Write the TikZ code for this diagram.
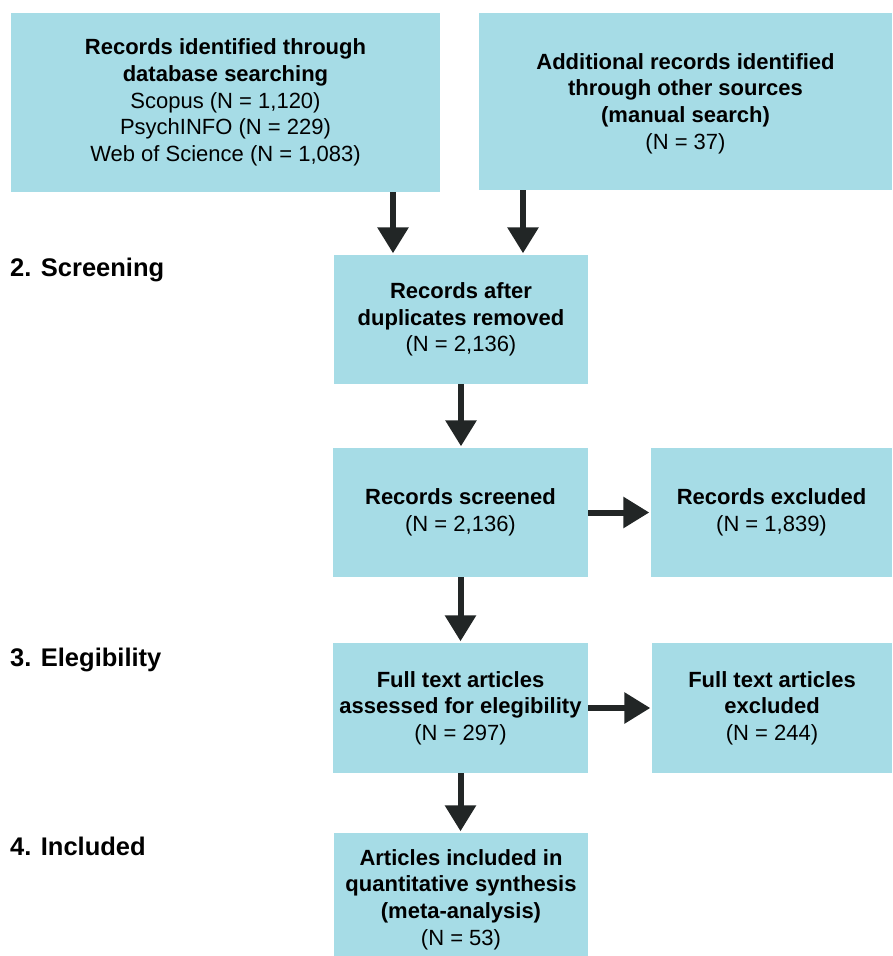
\documentclass[tikz,border=0pt]{standalone}
\usepackage{fontspec}
\setmainfont{Liberation Sans}
\usetikzlibrary{arrows.meta}
\definecolor{boxblue}{HTML}{A6DCE6}
\definecolor{arrowdark}{HTML}{222626}
\tikzset{
 box/.style={fill=boxblue, inner sep=0pt, align=center, font=\fontsize{22}{26.7}\selectfont, text=black},
 flow/.style={draw=arrowdark, line width=6pt, -{Triangle[width=30pt,length=26pt]}, shorten >=1.5pt},
 phase/.style={anchor=west, font=\fontsize{25.5}{28}\selectfont\bfseries, inner sep=0pt}
}
\begin{document}
\begin{tikzpicture}[x=1pt,y=-1pt]
\useasboundingbox (0,0) rectangle (892,956);
\node[box, minimum width=429pt, minimum height=179pt] (b1) at (225.5,102.5)
 {\textbf{Records identified through}\\\textbf{database searching}\\Scopus (N = 1,120)\\PsychINFO (N = 229)\\Web of Science (N = 1,083)};
\node[box, minimum width=413pt, minimum height=177pt] (b2) at (685.5,101.5)
 {\rule{0pt}{20pt}\textbf{Additional records identified}\\\textbf{through other sources}\\\textbf{(manual search)}\\(N = 37)};
\node[box, minimum width=254pt, minimum height=129pt] (b3) at (461,319.5)
 {\textbf{Records after}\\\textbf{duplicates removed}\\(N = 2,136)};
\node[box, minimum width=255pt, minimum height=129pt] (b4) at (460.5,512.5)
 {\textbf{Records screened}\\(N = 2,136)};
\node[box, minimum width=241pt, minimum height=129pt] (b5) at (771.5,512.5)
 {\textbf{Records excluded}\\(N = 1,839)};
\node[box, minimum width=255pt, minimum height=130pt] (b6) at (460.5,708)
 {\textbf{Full text articles}\\\textbf{assessed for elegibility}\\(N = 297)};
\node[box, minimum width=240pt, minimum height=130pt] (b7) at (772,708)
 {\textbf{Full text articles}\\\textbf{excluded}\\(N = 244)};
\node[box, minimum width=254pt, minimum height=123pt] (b8) at (461,894.5)
 {\rule{0pt}{26pt}\textbf{Articles included in}\\\textbf{quantitative synthesis}\\\textbf{(meta-analysis)}\\(N = 53)};

\node[phase] (p2) at (10,270) {2. Screening};
\node[phase] (p3) at (10,660) {3. Elegibility};
\node[phase] (p4) at (10,846) {4. Included};

\coordinate (xa) at (393,0);
\coordinate (xb) at (523,0);
\draw[flow] (b1.south -| xa) -- (b3.north -| xa);
\draw[flow] (b2.south -| xb) -- (b3.north -| xb);
\draw[flow] (b3.south) -- (b3.south |- b4.north);
\draw[flow] (b4.east) -- (b5.west);
\draw[flow] (b4.south) -- (b4.south |- b6.north);
\draw[flow] (b6.east) -- (b7.west);
\draw[flow] (b6.south) -- (b6.south |- b8.north);
\end{tikzpicture}
\end{document}
